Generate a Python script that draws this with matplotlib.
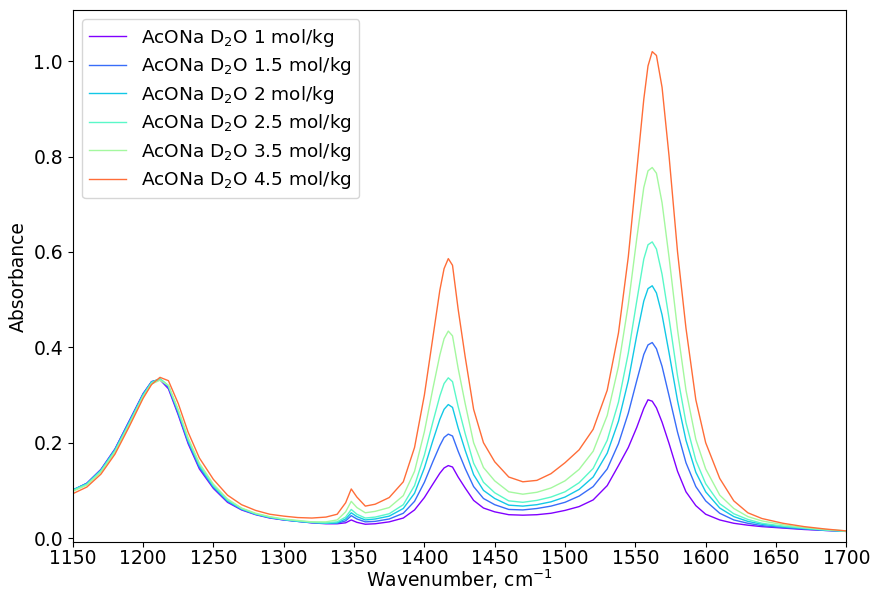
import matplotlib
matplotlib.use("Agg")
import matplotlib.pyplot as plt
from matplotlib import cm

# Wavenumber grid (cm^-1)
wn = [1150, 1160, 1170, 1180, 1190, 1200, 1206, 1212, 1218, 1225,
      1232, 1240, 1250, 1260, 1270, 1280, 1290, 1300, 1310, 1320,
      1330, 1338, 1344, 1348, 1352, 1358, 1365, 1375, 1385, 1393,
      1400, 1406, 1411, 1414, 1417, 1420, 1424, 1429, 1435, 1442,
      1450, 1460, 1470, 1480, 1490, 1500, 1510, 1520, 1530, 1538,
      1545, 1551, 1556, 1559, 1562, 1565, 1569, 1574, 1580, 1586,
      1593, 1600, 1610, 1620, 1630, 1640, 1655, 1670, 1685, 1700]

# Absorbance
abs_1 = [0.100, 0.115, 0.144, 0.187, 0.245, 0.303, 0.328, 0.332, 0.313, 0.258,
         0.198, 0.145, 0.104, 0.075, 0.059, 0.049, 0.042, 0.038, 0.035, 0.032,
         0.030, 0.030, 0.032, 0.038, 0.033, 0.029, 0.030, 0.034, 0.042, 0.059,
         0.085, 0.113, 0.136, 0.147, 0.152, 0.149, 0.128, 0.105, 0.079, 0.063,
         0.055, 0.049, 0.048, 0.049, 0.052, 0.058, 0.066, 0.080, 0.110, 0.152,
         0.190, 0.232, 0.272, 0.290, 0.287, 0.273, 0.243, 0.198, 0.140, 0.097,
         0.068, 0.050, 0.038, 0.031, 0.027, 0.024, 0.021, 0.018, 0.016, 0.014]
abs_15 = [0.101, 0.115, 0.143, 0.186, 0.244, 0.302, 0.328, 0.333, 0.316, 0.261,
          0.201, 0.148, 0.106, 0.077, 0.060, 0.050, 0.043, 0.038, 0.035, 0.032,
          0.031, 0.031, 0.036, 0.047, 0.040, 0.034, 0.035, 0.040, 0.052, 0.077,
          0.117, 0.160, 0.194, 0.211, 0.218, 0.214, 0.182, 0.146, 0.108, 0.083,
          0.070, 0.060, 0.059, 0.062, 0.067, 0.075, 0.088, 0.108, 0.145, 0.198,
          0.262, 0.330, 0.385, 0.405, 0.410, 0.397, 0.360, 0.298, 0.222, 0.158,
          0.108, 0.078, 0.052, 0.038, 0.031, 0.026, 0.022, 0.019, 0.016, 0.014]
abs_2 = [0.101, 0.114, 0.142, 0.185, 0.242, 0.301, 0.327, 0.334, 0.318, 0.264,
         0.204, 0.151, 0.108, 0.078, 0.061, 0.050, 0.043, 0.039, 0.035, 0.033,
         0.031, 0.032, 0.040, 0.053, 0.045, 0.038, 0.040, 0.046, 0.062, 0.094,
         0.147, 0.204, 0.249, 0.270, 0.280, 0.274, 0.231, 0.184, 0.133, 0.100,
         0.083, 0.069, 0.067, 0.070, 0.076, 0.086, 0.102, 0.128, 0.178, 0.245,
         0.330, 0.425, 0.497, 0.523, 0.529, 0.514, 0.468, 0.388, 0.288, 0.205,
         0.138, 0.097, 0.063, 0.045, 0.035, 0.029, 0.024, 0.020, 0.017, 0.014]
abs_25 = [0.100, 0.113, 0.141, 0.183, 0.240, 0.299, 0.326, 0.334, 0.320, 0.267,
          0.207, 0.154, 0.110, 0.080, 0.062, 0.051, 0.044, 0.039, 0.036, 0.033,
          0.032, 0.034, 0.044, 0.060, 0.050, 0.042, 0.044, 0.051, 0.070, 0.110,
          0.174, 0.243, 0.298, 0.324, 0.336, 0.328, 0.276, 0.219, 0.157, 0.117,
          0.095, 0.078, 0.075, 0.079, 0.086, 0.097, 0.116, 0.146, 0.205, 0.285,
          0.388, 0.497, 0.585, 0.615, 0.621, 0.606, 0.553, 0.460, 0.340, 0.242,
          0.163, 0.114, 0.072, 0.051, 0.039, 0.031, 0.025, 0.021, 0.017, 0.014]
abs_35 = [0.098, 0.111, 0.138, 0.180, 0.237, 0.296, 0.323, 0.331, 0.320, 0.269,
          0.210, 0.157, 0.113, 0.082, 0.063, 0.052, 0.045, 0.040, 0.037, 0.034,
          0.034, 0.038, 0.055, 0.077, 0.064, 0.053, 0.056, 0.064, 0.089, 0.140,
          0.223, 0.313, 0.384, 0.418, 0.434, 0.424, 0.356, 0.282, 0.200, 0.148,
          0.120, 0.097, 0.092, 0.096, 0.105, 0.120, 0.144, 0.182, 0.257, 0.360,
          0.490, 0.628, 0.735, 0.770, 0.777, 0.765, 0.703, 0.588, 0.437, 0.310,
          0.207, 0.145, 0.090, 0.062, 0.045, 0.036, 0.028, 0.022, 0.018, 0.015]
abs_45 = [0.093, 0.107, 0.134, 0.176, 0.233, 0.293, 0.322, 0.337, 0.330, 0.282,
          0.222, 0.168, 0.123, 0.090, 0.070, 0.058, 0.050, 0.046, 0.043, 0.042,
          0.044, 0.050, 0.074, 0.103, 0.086, 0.067, 0.071, 0.085, 0.118, 0.190,
          0.300, 0.420, 0.520, 0.565, 0.586, 0.572, 0.480, 0.380, 0.270, 0.200,
          0.160, 0.128, 0.118, 0.121, 0.135, 0.158, 0.185, 0.228, 0.310, 0.430,
          0.590, 0.770, 0.920, 0.990, 1.020, 1.012, 0.945, 0.800, 0.600, 0.440,
          0.290, 0.200, 0.125, 0.078, 0.053, 0.041, 0.031, 0.024, 0.019, 0.015]

series = [abs_1, abs_15, abs_2, abs_25, abs_35, abs_45]
labels = ["AcONa D$_2$O 1 mol/kg", "AcONa D$_2$O 1.5 mol/kg", "AcONa D$_2$O 2 mol/kg",
          "AcONa D$_2$O 2.5 mol/kg", "AcONa D$_2$O 3.5 mol/kg", "AcONa D$_2$O 4.5 mol/kg"]
cpos = [0, 1/7, 2/7, 3/7, 4/7, 6/7]

plt.rcParams["font.size"] = 13.5

fig, ax = plt.subplots(figsize=(8.77, 5.96), dpi=100)
fig.subplots_adjust(left=0.083, right=0.965, top=0.983, bottom=0.09)

for y, lab, c in zip(series, labels, cpos):
    ax.plot(wn, y, color=cm.rainbow(c), lw=1, label=lab)

ax.set_xlim(1150, 1700)
ax.set_ylim(-0.009, 1.107)
ax.set_xticks(range(1150, 1701, 50))
ax.tick_params(axis="x", pad=1)
ax.set_xlabel("Wavenumber, cm$^{-1}$", labelpad=0)
ax.set_ylabel("Absorbance")
ax.legend(loc="upper left", fontsize=13.3, labelspacing=0.35)

fig.savefig("out.png", dpi=100)
